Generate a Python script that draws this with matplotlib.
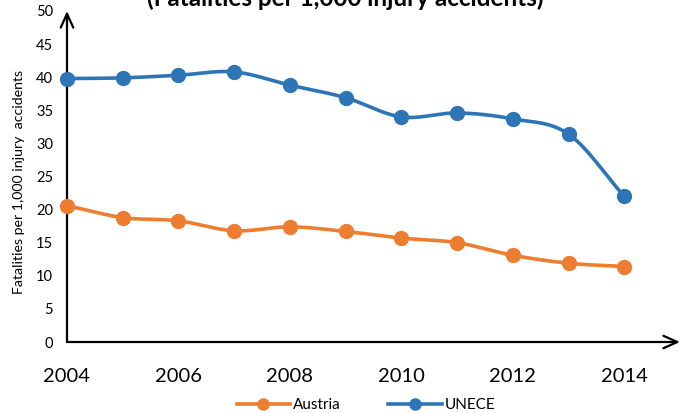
import numpy as np
import matplotlib
matplotlib.use("Agg")
import matplotlib.pyplot as plt
from matplotlib.lines import Line2D

plt.rcParams['font.family'] = ['Lato', 'DejaVu Sans']

years = [2004, 2005, 2006, 2007, 2008, 2009, 2010, 2011, 2012, 2013, 2014]
austria = [20.6, 18.8, 18.3, 16.8, 17.4, 16.7, 15.7, 15.0, 13.1, 11.9, 11.4]
unece = [39.8, 39.9, 40.3, 40.8, 38.8, 36.9, 34.0, 34.6, 33.7, 31.4, 22.0]
series_names = ["Austria", "UNECE"]
colors = ["#ED7D31", "#2E75B6"]
xtick_labels = ["2004", "2006", "2008", "2010", "2012", "2014"]
yticks = [0, 5, 10, 15, 20, 25, 30, 35, 40, 45, 50]
title = "(Fatalities per 1,000 injury accidents)"
ylabel = "Fatalities per 1,000 injury  accidents"


def smooth(x, y, n=30):
    x = np.asarray(x, float)
    y = np.asarray(y, float)
    px = np.concatenate([[2 * x[0] - x[1]], x, [2 * x[-1] - x[-2]]])
    py = np.concatenate([[2 * y[0] - y[1]], y, [2 * y[-1] - y[-2]]])
    xs, ys = [], []
    t = np.linspace(0, 1, n)
    s = 0.5
    for i in range(1, len(px) - 2):
        p0, p1, p2, p3 = px[i - 1], px[i], px[i + 1], px[i + 2]
        q0, q1, q2, q3 = py[i - 1], py[i], py[i + 1], py[i + 2]
        m1x, m2x = s * (p2 - p0), s * (p3 - p1)
        m1y, m2y = s * (q2 - q0), s * (q3 - q1)
        h00 = 2 * t**3 - 3 * t**2 + 1
        h10 = t**3 - 2 * t**2 + t
        h01 = -2 * t**3 + 3 * t**2
        h11 = t**3 - t**2
        xs.append(h00 * p1 + h10 * m1x + h01 * p2 + h11 * m2x)
        ys.append(h00 * q1 + h10 * m1y + h01 * q2 + h11 * m2y)
    return np.concatenate(xs), np.concatenate(ys)


fig = plt.figure(figsize=(6.85, 4.13), dpi=100)
ax = fig.add_axes([67 / 685, 1 - 342 / 413, 613 / 685, 331 / 413])
ax.set_xlim(2004, 2015)
ax.set_ylim(0, 50)

for vals, c in zip([austria, unece], colors):
    sx, sy = smooth(years, vals)
    ax.plot(sx, sy, color=c, lw=2.6, solid_capstyle='round', zorder=3, clip_on=False)
    ax.plot(years, vals, 'o', color=c, ms=10, zorder=4, clip_on=False)

for s in ax.spines.values():
    s.set_visible(False)

ax.annotate('', xy=(0, 1.0), xytext=(0, 0), xycoords='axes fraction',
            arrowprops=dict(arrowstyle='->,head_length=1.0,head_width=0.45', lw=1.6, color='black',
                            shrinkA=0, shrinkB=0))
ax.annotate('', xy=(1.0, 0), xytext=(0, 0), xycoords='axes fraction',
            arrowprops=dict(arrowstyle='->,head_length=1.0,head_width=0.45', lw=1.6, color='black',
                            shrinkA=0, shrinkB=0))

ax.set_xticks([int(v) for v in xtick_labels])
ax.set_xticklabels(xtick_labels, fontsize=14.5)
ax.set_yticks(yticks)
ax.set_yticklabels([str(v) for v in yticks], fontsize=10.5)
ax.tick_params(axis='both', length=0)
ax.tick_params(axis='x', pad=19)
ax.tick_params(axis='y', pad=10)

fig.text(19 / 685, 1 - 182 / 413, ylabel, rotation=90, fontsize=10.2,
         ha='center', va='center')

fig.text(345 / 685, 1 - 6 / 413, title, fontsize=17.5, fontweight='bold',
         ha='center', va='baseline')

handles = [Line2D([0], [0], color=c, lw=2.6, marker='o', ms=8) for c in colors]
fig.legend(handles, series_names, loc='center', bbox_to_anchor=(366 / 685, 1 - 405 / 413),
           ncol=2, frameon=False, fontsize=11, handlelength=3.5, columnspacing=3.1,
           handletextpad=0.2, borderpad=0, borderaxespad=0)

fig.savefig("out.png", dpi=100)
